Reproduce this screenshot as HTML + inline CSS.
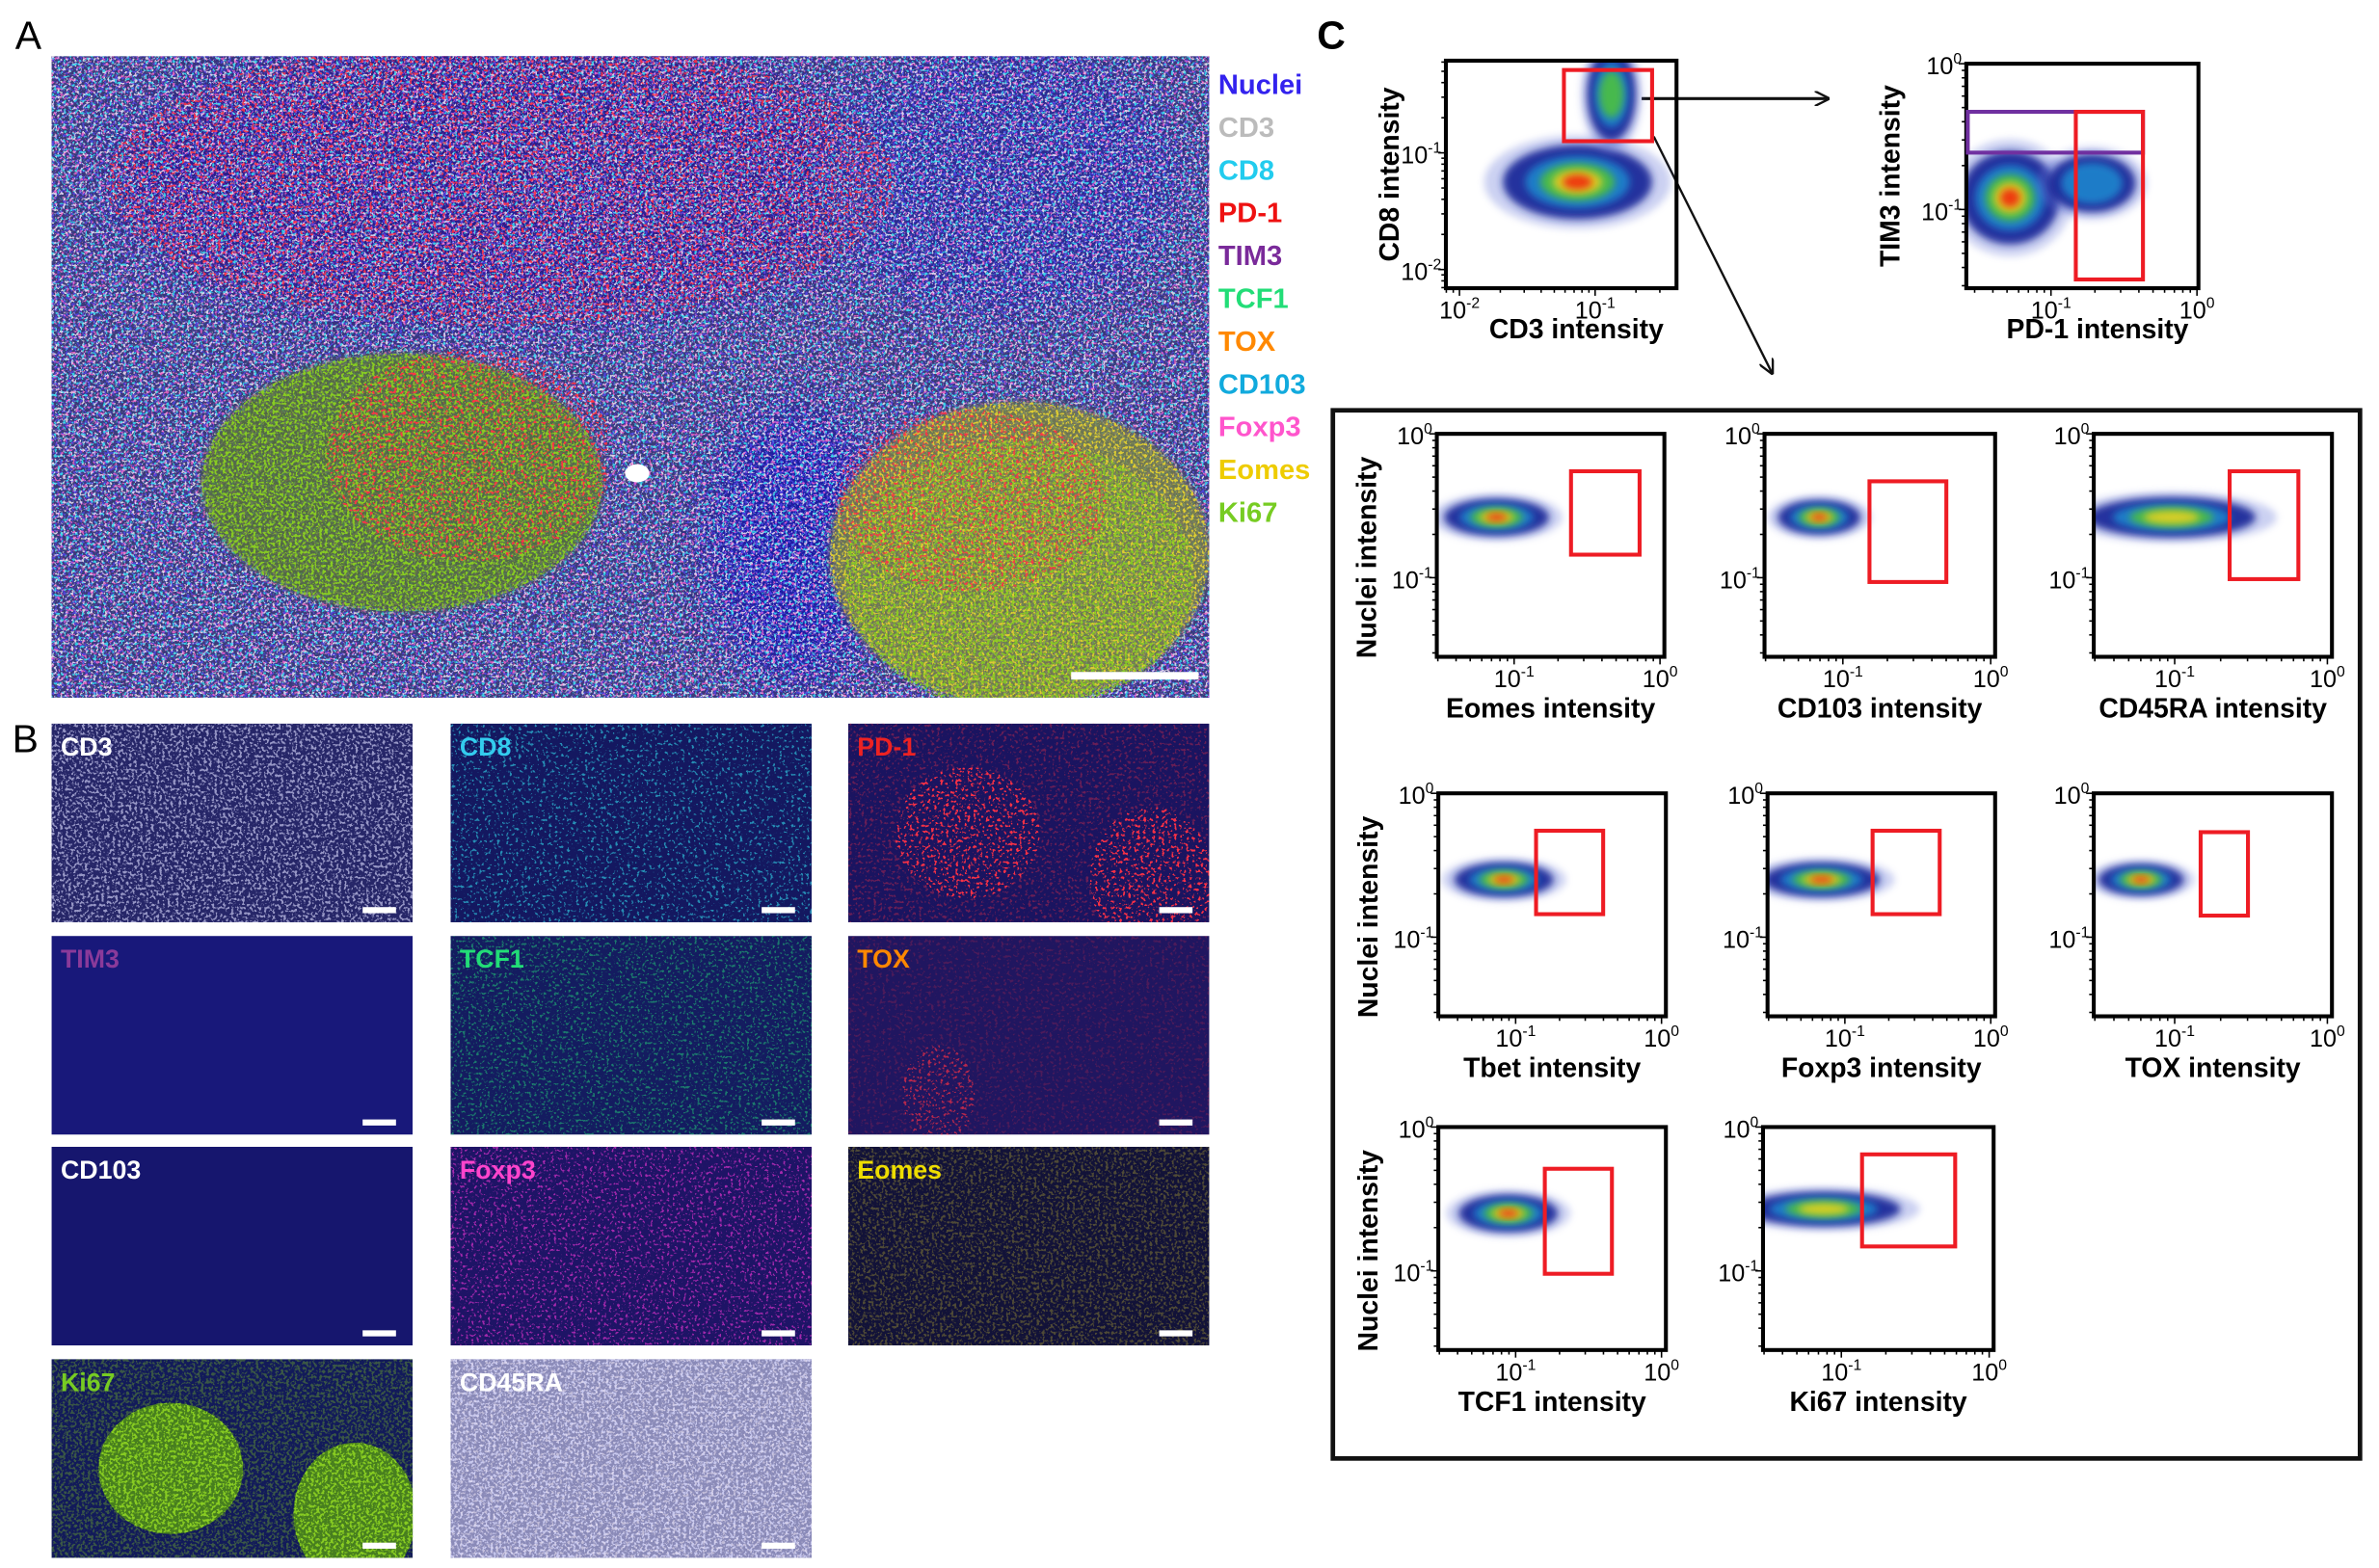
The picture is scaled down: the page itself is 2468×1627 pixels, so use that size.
<!DOCTYPE html>
<html><head><meta charset="utf-8"><style>
html,body{margin:0;padding:0;background:#fff;}
svg{display:block;font-family:"Liberation Sans",Arial,sans-serif;}
</style></head><body>
<svg id="fig" width="2468" height="1627" viewBox="0 0 1568 1033.7" xmlns="http://www.w3.org/2000/svg">
<defs id="defs"></defs>
<g id="panelA"></g>
<g id="panelB"></g>
<g id="panelC"></g>
</svg>
<script>
// ---------- Flow plot data (log10 units) ----------
const plotNames = ['cd8-vs-cd3','tim3-vs-pd1','eomes','cd103','cd45ra','tbet','foxp3','tox','tcf1','ki67'];
const xLabels = ['CD3 intensity','PD-1 intensity','Eomes intensity','CD103 intensity','CD45RA intensity','Tbet intensity','Foxp3 intensity','TOX intensity','TCF1 intensity','Ki67 intensity'];
const yLabels = ['CD8 intensity','TIM3 intensity','Nuclei intensity','','','Nuclei intensity','','','Nuclei intensity',''];
const xTicks = [[-2,-1],[-1,0],[-1,0],[-1,0],[-1,0],[-1,0],[-1,0],[-1,0],[-1,0],[-1,0]];
const yTicks = [[-1,-2],[0,-1],[0,-1],[0,-1],[0,-1],[0,-1],[0,-1],[0,-1],[0,-1],[0,-1]];
// density clusters: plot index, center x, center y, spread x, spread y, peak intensity (0..1)
const blobPlot = [0,0,1,1,2,3,4,5,6,7,8,9];
const blobX  = [-1.13,-0.88,-1.28,-0.72,-1.12,-1.16,-1.02,-1.08,-1.16,-1.22,-1.05,-1.12];
const blobY  = [-1.25,-0.50,-0.92,-0.82,-0.58,-0.58,-0.58,-0.60,-0.60,-0.60,-0.60,-0.57];
const blobSX = [0.55,0.18,0.34,0.30,0.36,0.28,0.55,0.34,0.40,0.28,0.34,0.52];
const blobSY = [0.32,0.40,0.32,0.20,0.13,0.12,0.14,0.12,0.12,0.11,0.13,0.12];
const blobW  = [1.0,0.6,1.0,0.35,0.9,0.85,0.8,0.85,0.85,0.85,0.85,0.75];
// gates: plot, x1, x2, y1(top), y2(bottom), color
const gatePlot = [0,1,1,2,3,4,5,6,7,8,9];
const gateX1 = [-1.23,-1.57,-0.83,-0.61,-0.82,-0.64,-0.86,-0.81,-0.83,-0.80,-0.86];
const gateX2 = [-0.58,-0.37,-0.37,-0.14,-0.30,-0.19,-0.40,-0.35,-0.52,-0.34,-0.23];
const gateY1 = [-0.29,-0.33,-0.33,-0.26,-0.33,-0.26,-0.26,-0.26,-0.27,-0.29,-0.19];
const gateY2 = [-0.90,-0.61,-1.48,-0.84,-1.03,-1.01,-0.84,-0.84,-0.85,-1.02,-0.83];
const gateColor = ['red','purple','red','red','red','red','red','red','red','red','red'];

// layout (not data)
const plotBoxes = [[953,40,1105,190],[1296,42,1449,190],[947,286,1097,433],[1163,286,1315,433],[1380,286,1537,433],
 [948,523,1098,670],[1165,523,1315,670],[1380,523,1537,670],[948,743,1098,890],[1162,743,1314,890]];
const plotXR = [[-2.1,-0.4],[-1.58,0.01]];
const plotYR = [[-2.16,-0.21],[-1.54,0]];
const smallXR=[-1.53,0.03], smallYR=[-1.55,0];

const NS='http://www.w3.org/2000/svg';
function el(tag, attrs, parent){const e=document.createElementNS(NS,tag);for(const k in attrs)e.setAttribute(k,attrs[k]);if(parent)parent.appendChild(e);return e;}
const defs=document.getElementById('defs');

function speckle(id,color,freq,seed,k,t){
  const f=el('filter',{id:id,x:'0',y:'0',width:'1',height:'1',filterUnits:'objectBoundingBox'},defs);
  el('feTurbulence',{type:'fractalNoise',baseFrequency:freq,numOctaves:'2',seed:seed,result:'n'},f);
  el('feColorMatrix',{in:'n',type:'matrix',values:`0 0 0 0 0 0 0 0 0 0 0 0 0 0 0 ${k} 0 0 0 ${-t}`,result:'a'},f);
  el('feFlood',{'flood-color':color,result:'c'},f);
  el('feComposite',{in:'c',in2:'a',operator:'in'},f);
}
speckle('sWhite','#e8e0f0',0.55,2,10,5.6);
speckle('sPink','#ff66cc',0.5,5,10,6.0);
speckle('sCyan','#33ddee',0.5,8,10,6.0);
speckle('sRed','#ff3344',0.5,11,10,5.8);
speckle('sGreen','#88cc22',0.55,14,10,5.0);
speckle('sYellow','#ddcc33',0.55,17,10,5.3);
speckle('sBlue','#5544ee',0.55,21,10,5.2);
speckle('sMag','#dd33cc',0.55,24,10,5.9);
speckle('sTeal','#22bb77',0.55,27,10,5.8);
speckle('sLav','#c8c8ee',0.55,30,10,5.3);
const blur=el('filter',{id:'blr',x:'-50%',y:'-50%',width:'200%',height:'200%'},defs);
el('feGaussianBlur',{stdDeviation:'2.5'},blur);
const blurBig=el('filter',{id:'blrBig',x:'-50%',y:'-50%',width:'200%',height:'200%'},defs);
el('feGaussianBlur',{stdDeviation:'14'},blurBig);
let clipId=0;
function clipEll(cx,cy,rx,ry){const id='c'+(clipId++);const c=el('clipPath',{id:id},defs);el('ellipse',{cx:cx,cy:cy,rx:rx,ry:ry},c);return 'url(#'+id+')';}
function clipRect(x,y,w,h){const id='c'+(clipId++);const c=el('clipPath',{id:id},defs);el('rect',{x:x,y:y,width:w,height:h},c);return 'url(#'+id+')';}
function spk(parent,filt,x,y,w,h,clip,op){const g=el('g',{},parent);if(clip)g.setAttribute('clip-path',clip);el('rect',{x:x,y:y,width:w,height:h,filter:'url(#'+filt+')',opacity:op||1},g);return g;}

// ---------------- Panel A ----------------
const A=document.getElementById('panelA');
const lblA=el('text',{x:10,y:32,'font-size':26,fill:'#000'},A);lblA.textContent='A';


const img=el('g',{'clip-path':clipRect(34,37,763,423)},A);


el('rect',{x:34,y:37,width:763,height:423,fill:'#3a3a78'},img);
el('ellipse',{cx:330,cy:120,rx:260,ry:95,fill:'#2a1a8a',filter:'url(#blrBig)'},img);
el('ellipse',{cx:660,cy:120,rx:120,ry:90,fill:'#2a2a90',filter:'url(#blrBig)'},img);
el('ellipse',{cx:525,cy:360,rx:60,ry:90,fill:'#1e1ea0',filter:'url(#blrBig)'},img);
spk(img,'sBlue',34,37,763,423,null,0.8);
spk(img,'sWhite',34,37,763,423,null,0.9);
spk(img,'sPink',34,37,763,423,null,0.8);
spk(img,'sCyan',34,37,763,423,null,0.9);
spk(img,'sRed',34,37,763,423,clipEll(330,120,260,95),0.9);
el('ellipse',{cx:265,cy:318,rx:132,ry:85,fill:'#56703a',opacity:0.85,filter:'url(#blr)'},img);
spk(img,'sGreen',130,230,270,180,clipEll(265,318,132,85),1);
spk(img,'sRed',200,230,200,180,clipEll(310,300,95,70),1);
el('ellipse',{cx:672,cy:365,rx:125,ry:100,fill:'#76804a',opacity:0.85,filter:'url(#blr)'},img);
spk(img,'sYellow',540,260,260,210,clipEll(672,365,125,100),1);
spk(img,'sGreen',540,260,260,210,clipEll(672,380,115,90),0.9);
spk(img,'sRed',540,260,260,210,clipEll(640,330,90,60),0.9);
el('ellipse',{cx:420,cy:312,rx:8,ry:6,fill:'#fff'},img);
const sbA=el('rect',{x:706,y:443,width:84,height:5,fill:'#fff'},A);


const legNames=['Nuclei','CD3','CD8','PD-1','TIM3','TCF1','TOX','CD103','Foxp3','Eomes','Ki67'];
const legColors=['#3322ee','#bbbbbb','#22ccee','#ee1111','#7a2a9a','#22dd77','#ff8800','#11aadd','#ff55cc','#eecc00','#77cc22'];
legNames.forEach((n,i)=>{
  const t=el('text',{x:803,y:62+i*28.2,'font-size':18.5,'font-weight':'bold',fill:legColors[i]},A);
  t.textContent=n;
  
  
});

// ---------------- Panel B ----------------
const B=document.getElementById('panelB');
const lblB=el('text',{x:8,y:496,'font-size':26,fill:'#000'},B);lblB.textContent='B';


const tileX=[34,297,559], tileY=[477,617,756,896], TW=238, TH=131;
const tiles=[
 {n:'CD3',c:'#ffffff',base:'#262668',layers:[['sLav',null,0.7]]},
 {n:'CD8',c:'#33ccee',base:'#141860',layers:[['sCyan',null,0.6]]},
 {n:'PD-1',c:'#ee2222',base:'#1a1460',layers:[['sRed','ovals',1],['sRed',null,0.35]]},
 {n:'TIM3',c:'#8a3a9a',base:'#18187a',layers:[]},
 {n:'TCF1',c:'#22dd77',base:'#141c60',layers:[['sTeal',null,0.6]]},
 {n:'TOX',c:'#ff8800',base:'#201660',layers:[['sRed','left',0.6],['sRed',null,0.2]]},
 {n:'CD103',c:'#ffffff',base:'#16166e',layers:[]},
 {n:'Foxp3',c:'#ff44cc',base:'#1e1466',layers:[['sMag',null,0.7]]},
 {n:'Eomes',c:'#eedd00',base:'#121238',layers:[['sYellow',null,0.3]]},
 {n:'Ki67',c:'#77cc22',base:'#121a5a',layers:[['sGreen','ovalsFill',1],['sGreen',null,0.35]]},
 {n:'CD45RA',c:'#ffffff',base:'#8a8ab8',layers:[['sLav',null,1],['sWhite',null,0.6]]}
];
tiles.forEach((t,i)=>{
  const x=tileX[i%3], y=tileY[Math.floor(i/3)];
  const g=el('g',{'clip-path':clipRect(x,y,TW,TH)},B);
  
  
  el('rect',{x:x,y:y,width:TW,height:TH,fill:t.base},g);
  const o1=[x+TW*0.33,y+TH*0.55,TW*0.2,TH*0.33], o2=[x+TW*0.84,y+TH*0.78,TW*0.17,TH*0.36];
  t.layers.forEach(L=>{
    if(L[1]==='ovals'){spk(g,L[0],x,y,TW,TH,clipEll(...o1),L[2]);spk(g,L[0],x,y,TW,TH,clipEll(...o2),L[2]);}
    else if(L[1]==='ovalsFill'){el('ellipse',{cx:o1[0],cy:o1[1],rx:o1[2],ry:o1[3],fill:'#4e8a18',opacity:0.9},g);el('ellipse',{cx:o2[0],cy:o2[1],rx:o2[2],ry:o2[3],fill:'#4e8a18',opacity:0.9},g);spk(g,L[0],x,y,TW,TH,clipEll(...o1),1);spk(g,L[0],x,y,TW,TH,clipEll(...o2),1);}
    else if(L[1]==='left'){spk(g,L[0],x,y,TW,TH,clipEll(x+TW*0.25,y+TH*0.8,TW*0.1,TH*0.25),L[2]);}
    else spk(g,L[0],x,y,TW,TH,null,L[2]);
  });
  const lt=el('text',{x:x+6,y:y+21,'font-size':17,'font-weight':'bold',fill:t.c},B);
  lt.textContent=t.n;
  
  
  const sb=el('rect',{x:x+TW-33,y:y+TH-10,width:22,height:4,fill:'#fff'},B);
  
  
});

// ---------------- Panel C ----------------
const C=document.getElementById('panelC');
const lblC=el('text',{x:868,y:32,'font-size':26,'font-weight':'bold',fill:'#000'},C);lblC.textContent='C';


const frame=el('rect',{x:878.5,y:270.5,width:677,height:691,fill:'none',stroke:'#111',"stroke-width":3},C);


const mk=el('marker',{id:'arr',markerWidth:'10',markerHeight:'10',refX:'9',refY:'5',orient:'auto',markerUnits:'userSpaceOnUse'},defs);
el('path',{d:'M0,0 L10,5 L0,10',fill:'none',stroke:'#111','stroke-width':1.5},mk);
const a1=el('line',{x1:1082,y1:65,x2:1205,y2:65,stroke:'#111','stroke-width':2,'marker-end':'url(#arr)'},C);


const a2=el('line',{x1:1090,y1:90,x2:1168,y2:246,stroke:'#111','stroke-width':1.5,'marker-end':'url(#arr)'},C);



const scales=[];
plotNames.forEach((nm,i)=>{
  const [l,t,r,b]=plotBoxes[i];
  const xr=i<2?plotXR[i]:smallXR, yr=i<2?plotYR[i]:smallYR;
  const sx=v=>l+(v-xr[0])/(xr[1]-xr[0])*(r-l);
  const sy=v=>b-(v-yr[0])/(yr[1]-yr[0])*(b-t);
  scales.push({sx,sy});
  const g=el('g',{},C);
  
  
  const bg=el('g',{'clip-path':clipRect(l,t,r-l,b-t)},g);
  
  
  blobPlot.forEach((p,j)=>{
    if(p!==i)return;
    const cx=sx(blobX[j]), cy=sy(blobY[j]);
    const rx=blobSX[j]*(r-l)/(xr[1]-xr[0]), ry=blobSY[j]*(b-t)/(yr[1]-yr[0]);
    const w=blobW[j];
    const layers=[['#6a7ad8',1.25,0.35,0],['#1a2a9a',1.0,0.95,0],['#1e8ad0',0.7,0.85,0.3],['#4ec040',0.5,0.9,0.5],['#e8d020',0.33,0.9,0.7],['#f03010',0.2,0.95,0.85]];
    layers.forEach(([c,k,o,thr])=>{
      if(w<thr)return;
      const e=el('ellipse',{cx:cx,cy:cy,rx:rx*k,ry:ry*k,fill:c,opacity:o,filter:'url(#blr)'},bg);
      
      
    });
  });
  el('rect',{x:l,y:t,width:r-l,height:b-t,fill:'none',stroke:'#000','stroke-width':2.6},g);
  for(let d=Math.floor(xr[0]);d<=Math.ceil(xr[1]);d++){for(let m=1;m<10;m++){const v=d+Math.log10(m);if(v<xr[0]||v>xr[1])continue;el('line',{x1:sx(v),x2:sx(v),y1:b,y2:b+(m===1?5:3),stroke:'#000','stroke-width':1},g);}}
  for(let d=Math.floor(yr[0]);d<=Math.ceil(yr[1]);d++){for(let m=1;m<10;m++){const v=d+Math.log10(m);if(v<yr[0]||v>yr[1])continue;el('line',{x1:l,x2:l-(m===1?5:3),y1:sy(v),y2:sy(v),stroke:'#000','stroke-width':1},g);}}
  xTicks[i].forEach(v=>{
    const tx=el('text',{x:sx(v),y:b+20,'font-size':16,'text-anchor':'middle',fill:'#000'},g);
    tx.innerHTML='10<tspan dy="-7" font-size="10">'+v+'</tspan>';
    
    
  });
  yTicks[i].forEach(v=>{
    const ty=el('text',{x:l-3,y:sy(v)+7,'font-size':16,'text-anchor':'end',fill:'#000'},g);
    ty.innerHTML='10<tspan dy="-7" font-size="10">'+v+'</tspan>';
    
    
  });
  const xl=el('text',{x:(l+r)/2+(i<2?10:0),y:b+(i<2?33:40),'font-size':18,'font-weight':'bold','text-anchor':'middle',fill:'#000'},g);
  xl.textContent=xLabels[i];
  
  
  if(yLabels[i]){
    const yx=i===0?l-31:(i===1?l-44:l-40);
    const yy=(t+b)/2+(i>=2?8:0);
    const yl=el('text',{x:yx,y:yy,'font-size':18,'font-weight':'bold','text-anchor':'middle',fill:'#000',transform:`rotate(-90 ${yx} ${yy})`},g);
    yl.textContent=yLabels[i];
    
    
  }
});
gatePlot.forEach((p,j)=>{
  const s=scales[p];
  const x1=s.sx(gateX1[j]), x2=s.sx(gateX2[j]), y1=s.sy(gateY1[j]), y2=s.sy(gateY2[j]);
  const gr=el('rect',{x:x1,y:y1,width:x2-x1,height:y2-y1,fill:'none',stroke:gateColor[j]==='red'?'#ee1c24':'#7030a0','stroke-width':2.6},C);
  
  
});
</script>
</body></html>
